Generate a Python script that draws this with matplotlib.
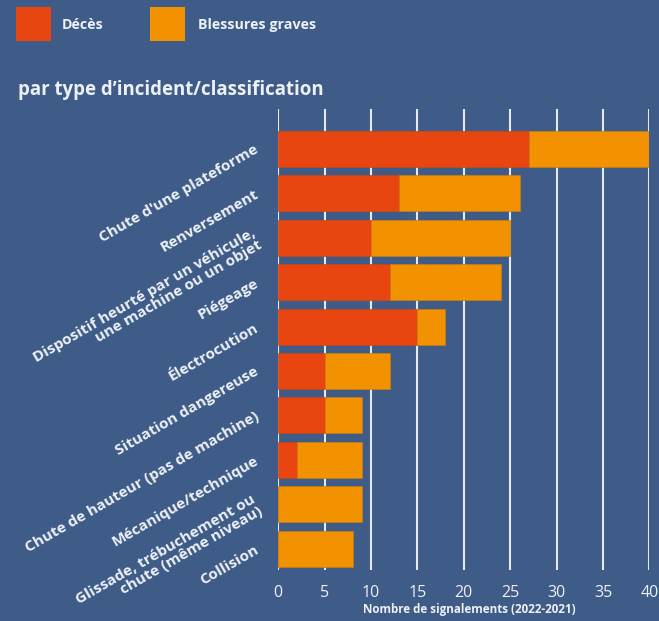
import matplotlib
matplotlib.use("Agg")
import matplotlib.pyplot as plt
from matplotlib.patches import Rectangle

# Data
categories = [
    "Chute d'une plateforme",
    "Renversement",
    "Dispositif heurté par un véhicule,\nune machine ou un objet",
    "Piégeage",
    "Électrocution",
    "Situation dangereuse",
    "Chute de hauteur (pas de machine)",
    "Mécanique/technique",
    "Glissade, trébuchement ou\nchute (même niveau)",
    "Collision",
]
deces = [27, 13, 10, 12, 15, 5, 5, 2, 0, 0]
blessures = [13, 13, 15, 12, 3, 7, 4, 7, 9, 8]
xticks = [0, 5, 10, 15, 20, 25, 30, 35, 40]

BG = "#3e5c87"
RED = "#e84511"
ORANGE = "#f39200"
TXT = "#edf1f6"
GRID = "#e4eaf3"

plt.rcParams["font.family"] = ["Open Sans", "DejaVu Sans"]

fig = plt.figure(figsize=(6.59, 6.21), dpi=100, facecolor=BG)
ax = fig.add_axes([0.4223, 0.0821, 0.5632, 0.7424], facecolor=BG)

y = list(range(len(categories)))
ax.barh(y, deces, height=0.81, color=RED, edgecolor="#c9470f", linewidth=0.5, zorder=3)
ax.barh(y, blessures, left=deces, height=0.81, color=ORANGE, edgecolor="#c97c10",
        linewidth=0.5, zorder=3)

ax.set_xlim(0, 40)
ax.set_ylim(9.48, -0.9)
ax.set_xticks(xticks)
ax.set_xticklabels([str(t) for t in xticks])
ax.set_yticks(y)
ax.set_yticklabels(categories, rotation=30, ha="right", va="center",
                   rotation_mode="anchor", fontsize=11, fontweight="bold",
                   color=TXT, linespacing=1.0)
ax.tick_params(axis="y", length=0, pad=15)
ax.tick_params(axis="x", length=0, pad=11, labelsize=11.5, labelcolor=TXT)
ax.grid(axis="x", color=GRID, linewidth=1.5, zorder=1)
ax.grid(axis="y", visible=False)
for s in ax.spines.values():
    s.set_visible(False)

fig.text(0.712, 1 - 610 / 621, "Nombre de signalements (2022-2021)", ha="center",
         va="center", fontsize=8.4, fontweight="bold", color=TXT)

# Title
fig.text(0.027, 0.855, "par type d\u2019incident/classification", ha="left", va="center",
         fontsize=13.4, fontweight="bold", color=TXT)

# Legend
fig.patches.append(Rectangle((16 / 659, 1 - 41 / 621), 35 / 659, 34 / 621,
                             transform=fig.transFigure, facecolor=RED, edgecolor="none"))
fig.patches.append(Rectangle((150 / 659, 1 - 41 / 621), 35 / 659, 34 / 621,
                             transform=fig.transFigure, facecolor=ORANGE, edgecolor="none"))
fig.text(62 / 659, 1 - 25 / 621, "Décès", ha="left", va="center",
         fontsize=10.3, fontweight="bold", color=TXT)
fig.text(198 / 659, 1 - 25 / 621, "Blessures graves", ha="left", va="center",
         fontsize=10.3, fontweight="bold", color=TXT)

fig.savefig("out.png", dpi=100, facecolor=BG)
